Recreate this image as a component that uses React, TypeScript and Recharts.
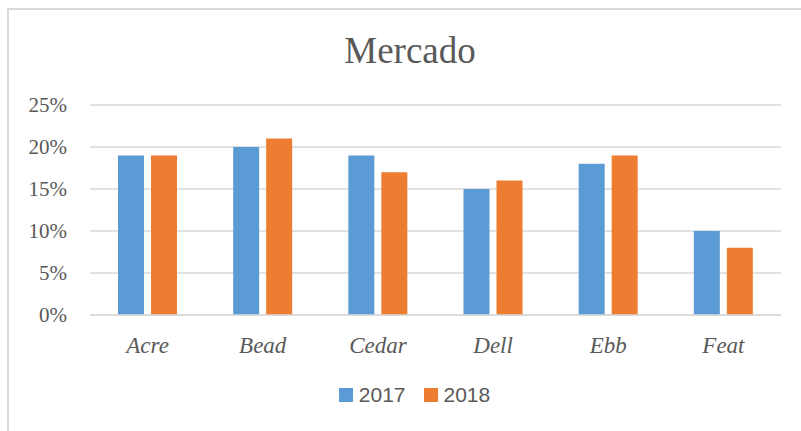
import React from 'react';
import { BarChart, Bar, XAxis, YAxis, CartesianGrid, Legend } from 'recharts';

const categories = ['Acre', 'Bead', 'Cedar', 'Dell', 'Ebb', 'Feat'];
const values2017 = [0.19, 0.20, 0.19, 0.15, 0.18, 0.10];
const values2018 = [0.19, 0.21, 0.17, 0.16, 0.19, 0.08];
const yTicks = [0, 0.05, 0.10, 0.15, 0.20, 0.25];
const seriesNames = ['2017', '2018'];
const colors = ['#5B9BD5', '#ED7D31'];

const data = categories.map((c, i) => ({ name: c, s2017: values2017[i], s2018: values2018[i] }));

const serif = '"Liberation Serif", "Times New Roman", serif';
const sans = '"Liberation Sans", Arial, sans-serif';

const LegendContent = () => (
  <div style={{ display: 'flex', justifyContent: 'center', alignItems: 'center', paddingLeft: 28 }}>
    {seriesNames.map((n, i) => (
      <div key={n} style={{ display: 'flex', alignItems: 'center', marginRight: i === 0 ? 18 : 0 }}>
        <div style={{ width: 14, height: 14, background: colors[i], marginRight: 6 }} />
        <span style={{ fontFamily: sans, fontSize: 21, color: '#595959' }}>{n}</span>
      </div>
    ))}
  </div>
);

export default function App() {
  return (
    <div style={{ position: 'absolute', left: 0, top: 0, width: 801, height: 431, background: '#fff' }}>
      <div style={{ position: 'absolute', left: 7, top: 8, width: 794, height: 423, borderLeft: '2px solid #d9d9d9', borderTop: '2px solid #d9d9d9' }} />
      <div style={{ position: 'absolute', left: 0, top: 0 }}>
        <BarChart width={801} height={431} data={data} margin={{ top: 105, right: 20, bottom: 66, left: 0 }} barSize={26} barGap={7}>
          <text x={410} y={63} textAnchor="middle" fontFamily={serif} fontSize={37} fill="#595959">Mercado</text>
          <CartesianGrid vertical={false} stroke="#d9d9d9" strokeWidth={1.5} />
          <XAxis dataKey="name" axisLine={{ stroke: '#d9d9d9', strokeWidth: 1.5 }} tickLine={false} tickSize={0} tickMargin={22} height={50}
            tick={{ fontFamily: serif, fontSize: 23, fontStyle: 'italic', fill: '#595959' }} interval={0} />
          <YAxis domain={[0, 0.25]} ticks={yTicks} width={90} axisLine={false} tickLine={false} tickSize={0} tickMargin={23}
            tickFormatter={(v: number) => `${Math.round(v * 100)}%`}
            tick={{ fontFamily: serif, fontSize: 21, fill: '#595959' }} />
          <Legend layout="horizontal" verticalAlign="middle" align="center" content={<LegendContent />}
            wrapperStyle={{ position: 'absolute', top: 383, left: 0, width: 801 }} />
          <Bar dataKey="s2017" name="2017" fill={colors[0]} isAnimationActive={false} />
          <Bar dataKey="s2018" name="2018" fill={colors[1]} isAnimationActive={false} />
        </BarChart>
      </div>
    </div>
  );
}
